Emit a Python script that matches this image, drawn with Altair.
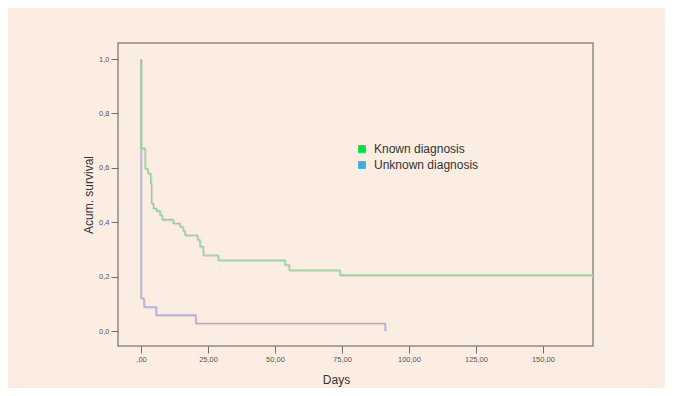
import altair as alt
import pandas as pd

# Kaplan-Meier step points (day of drop, new survival level)
known_days = [0, 0, 1.5, 2.5, 3.6, 3.9, 4.6, 5.8, 7.1, 7.9, 12.0, 14.5, 15.7, 16.4, 21.1, 22.0, 23.2, 28.8, 53.7, 55.3, 74.2, 172]
known_surv = [1.0, 0.672, 0.598, 0.58, 0.543, 0.469, 0.451, 0.442, 0.426, 0.41, 0.396, 0.383, 0.368, 0.353, 0.335, 0.31, 0.279, 0.261, 0.243, 0.224, 0.206, 0.206]
unknown_days = [0, 0, 1.1, 5.6, 20.4, 91.1]
unknown_surv = [1.0, 0.12, 0.089, 0.059, 0.028, 0.0]

groups = ["Known diagnosis", "Unknown diagnosis"]
legend_colors = ["#00E03E", "#38ADE6"]
line_colors = {"Known diagnosis": "#85D89B", "Unknown diagnosis": "#A3ABE0"}

x_ticks = [0, 25, 50, 75, 100, 125, 150]
y_ticks = [0.0, 0.2, 0.4, 0.6, 0.8, 1.0]

rows = []
for i, (d, s) in enumerate(zip(known_days, known_surv)):
    rows.append({"group": groups[0], "day": d, "surv": s, "idx": i})
for i, (d, s) in enumerate(zip(unknown_days, unknown_surv)):
    rows.append({"group": groups[1], "day": d, "surv": s, "idx": i})
df = pd.DataFrame(rows)

font = "Liberation Sans"
bg = "#FCEDE2"

x_enc = alt.X(
    "day:Q",
    scale=alt.Scale(domain=[-8.6, 168.7], nice=False, zero=False),
    axis=alt.Axis(
        values=x_ticks,
        labelExpr="datum.value == 0 ? ',00' : replace(format(datum.value, '.2f'), '.', ',')",
        title="Days",
        titleX=218,
        titleAlign="center",
        titleAnchor="start",
        titlePadding=12,
    ),
)
y_enc = alt.Y(
    "surv:Q",
    scale=alt.Scale(domain=[-0.055, 1.059], nice=False, zero=False),
    axis=alt.Axis(
        values=y_ticks,
        labelExpr="replace(format(datum.value, '.1f'), '.', ',')",
        title="Acum. survival",
        titlePadding=3,
    ),
)
order_enc = alt.Order("idx:Q")

base = alt.Chart(df)

shadow = base.mark_line(
    interpolate="step-after", color="#E6D2CA", strokeWidth=1.4, xOffset=1, yOffset=1.2, clip=True
).encode(x=x_enc, y=y_enc, detail="group:N", order=order_enc)

blue = base.transform_filter(alt.datum.group == groups[1]).mark_line(
    interpolate="step-after", color=line_colors[groups[1]], strokeWidth=1.3, clip=True
).encode(x=x_enc, y=y_enc, order=order_enc)

green = base.transform_filter(alt.datum.group == groups[0]).mark_line(
    interpolate="step-after", color=line_colors[groups[0]], strokeWidth=1.3, clip=True
).encode(x=x_enc, y=y_enc, order=order_enc)

legend_layer = base.mark_square(opacity=0, size=60).encode(
    x=x_enc,
    y=y_enc,
    fill=alt.Fill(
        "group:N",
        scale=alt.Scale(domain=groups, range=legend_colors),
        legend=alt.Legend(
            title=None,
            orient="none",
            legendX=238,
            legendY=100,
            symbolType="square",
            symbolSize=60,
            symbolOpacity=1,
            symbolStrokeWidth=0,
            labelFontSize=12,
            labelFont=font,
            labelColor="#333333",
            labelOffset=6,
            rowPadding=4,
        ),
    ),
)

chart = (
    alt.layer(shadow, blue, green, legend_layer)
    .properties(
        width=475,
        height=303,
        autosize=alt.AutoSizeParams(type="none"),
        padding={"left": 110, "top": 35, "right": 72, "bottom": 42},
        background=bg,
    )
    .configure_view(stroke="#8A8A8A", strokeWidth=1.5, fill=bg)
    .configure_axis(
        domain=False,
        grid=False,
        tickColor="#6E6E6E",
        tickSize=7,
        tickWidth=1,
        labelFont=font,
        labelFontSize=7.5,
        labelColor="#555555",
        labelPadding=2,
        titleFont=font,
        titleFontSize=12,
        titleFontWeight="normal",
        titleColor="#333333",
    )
)

chart.save("out.html", embed_options={"renderer": "svg", "actions": False})
